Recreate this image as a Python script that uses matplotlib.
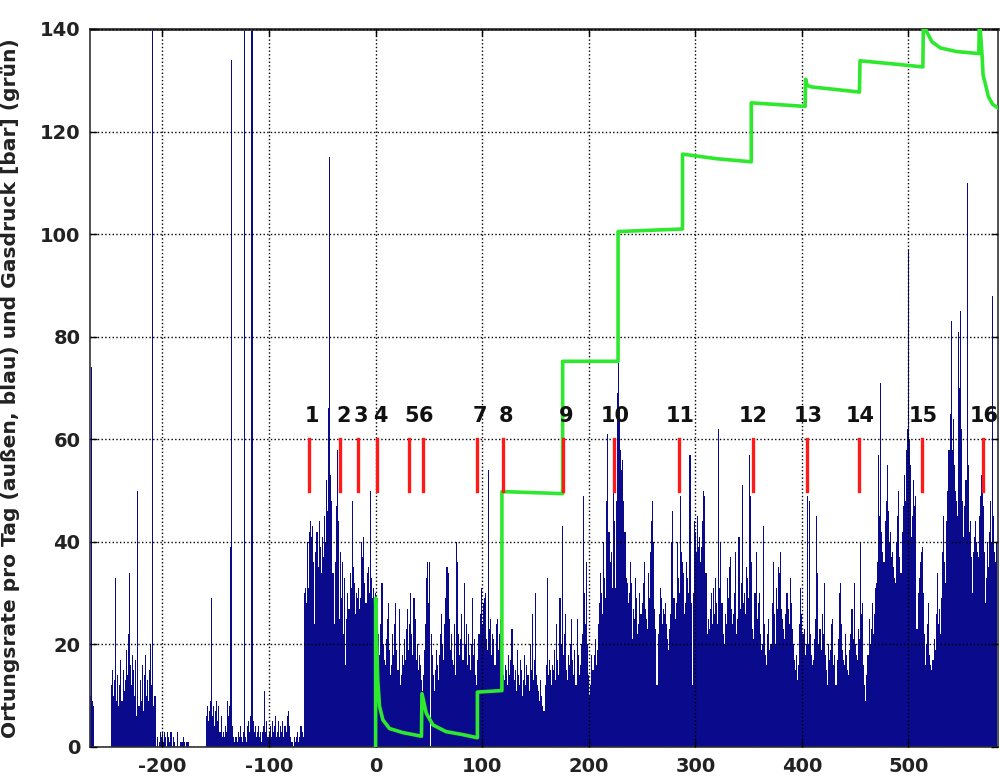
import numpy as np
import matplotlib
matplotlib.use('Agg')
import matplotlib.pyplot as plt

plt.rcParams['font.family'] = ['DejaVu Sans']
plt.rcParams['axes.unicode_minus'] = False

# daily rate (blue bars), split into day ranges: (first day, values)
rate_a_start = -268  # -268 .. -207
rate_a = [10, 74, 9, 8, 0, 0, 0, 0, 0, 0, 0, 0, 0, 0, 0, 0, 0, 0, 0, 0,
          12, 15, 10, 13, 33, 9, 14, 8, 12, 17, 9, 15, 11, 13, 19, 14, 22, 34, 16, 12,
          18, 15, 10, 17, 6, 50, 8, 13, 9, 16, 7, 14, 18, 10, 13, 9, 15, 20, 12, 160,
          8, 10]
rate_b_start = -206  # -206 .. -160
rate_b = [0, 2, 0, 1, 3,
          2, 3, 1, 3, 2, 0, 3, 2, 1, 3, 0, 2, 1, 0, 0, 3, 0, 0, 1, 1, 1, 2, 1, 0, 1, 1, 0,
          0, 0, 0, 0, 0, 0, 0, 0, 0, 0, 0, 0, 0, 0, 0]
rate_c_start = -159  # -159 .. -69
rate_c = [6, 8, 5, 7, 9, 29, 6, 8, 4, 7,
          9, 5, 8, 3, 6, 2, 3, 2, 4, 3,
          9, 6, 8, 39, 134, 4, 2, 1, 2, 1,
          3, 2, 4, 2, 1, 3, 160, 2, 1, 4,
          5, 3, 6, 160, 5, 3, 4, 2, 3, 4,
          2, 3, 1, 3, 4, 11, 3, 5, 2, 3,
          4, 2, 5, 3, 4, 6, 2, 3, 5, 2,
          4, 3, 5, 2, 4, 3, 6, 7, 4, 2,
          1, 1, 0, 2, 1, 2, 3, 1, 2, 4,
          3]
rate_d_start = -68  # -68 .. -1
rate_d = [2, 30, 31, 28, 40, 31, 42, 44, 41, 43,
          36, 24, 38, 42, 35, 44, 39, 34, 41, 37,
          45, 40, 52, 46, 66, 115, 53, 48, 34, 24,
          36, 47, 58, 44, 25, 38, 29, 36, 22, 33,
          16, 25, 30, 27, 34, 31, 48, 35, 32, 26,
          30, 29, 31, 27, 29, 40, 37, 41, 32, 28,
          34, 35, 30, 50, 33, 29, 31, 28]
rate_e_start = 0  # 0 .. 120
rate_e = [30, 26, 29, 22, 18, 24, 32, 20, 17, 16,
          21, 25, 28, 19, 14, 16, 22, 18, 24, 28,
          19, 15, 27, 12, 14, 18, 16, 21, 17, 23,
          27, 19, 24, 30, 22, 18, 29, 25, 17, 20,
          15, 18, 16, 13, 11, 14, 19, 24, 33, 36,
          28, 36, 22, 18, 14, 11, 15, 19, 16, 13,
          18, 22, 26, 20, 17, 24, 29, 35, 34, 25,
          19, 22, 17, 16, 24, 14, 40, 36, 22, 18,
          21, 26, 17, 32, 20, 24, 16, 22, 18, 15,
          20, 29, 18, 21, 14, 12, 17, 22, 26, 31,
          24, 28, 29, 30, 21, 19, 54, 23, 25, 18,
          22, 21, 16, 24, 25, 19, 22, 25, 20, 23,
          14]
rate_f_start = 121  # 121 .. 240
rate_f = [13, 16, 15, 12, 18, 14, 17, 23, 16, 13,
          15, 11, 19, 14, 12, 17, 15, 10, 13, 18,
          12, 16, 14, 11, 20, 15, 26, 13, 17, 30,
          14, 12, 11, 9, 13, 10, 8, 7, 12, 16,
          33, 14, 17, 15, 12, 16, 15, 19, 13, 24,
          17, 14, 29, 20, 43, 18, 22, 26, 15, 13,
          18, 16, 20, 25, 17, 14, 19, 12, 25, 18,
          14, 16, 20, 22, 49, 30, 24, 36, 20, 14,
          10, 12, 18, 15, 18, 21, 16, 19, 24, 28,
          34, 30, 26, 40, 33, 29, 48, 61, 42, 36,
          38, 31, 60, 44, 31, 48, 69, 87, 66, 58,
          54, 56, 48, 42, 33, 32, 28, 30, 36, 32]
rate_g_start = 241  # 241 .. 405
rate_g = [21, 27, 25, 33, 29, 22, 24, 30, 26, 28,
          32, 36, 27, 25, 23, 34, 29, 38, 44, 48,
          40, 27, 23, 12, 22, 26, 31, 29, 24, 27,
          26, 28, 24, 21, 19, 23, 26, 40, 46, 29,
          25, 28, 40, 33, 30, 49, 38, 36, 34, 26,
          28, 36, 33, 30, 57, 28, 12, 30, 44, 42,
          38, 45, 39, 41, 36, 39, 44, 50, 49, 34,
          22, 25, 23, 27, 30, 24, 31, 26, 33, 28,
          24, 62, 31, 40, 28, 22, 20, 26, 24, 33,
          29, 35, 37, 27, 24, 26, 30, 38, 22, 25,
          41, 27, 32, 51, 28, 30, 26, 35, 33, 29,
          57, 49, 36, 23, 21, 30, 38, 25, 28, 30,
          22, 19, 20, 43, 24, 18, 16, 22, 25, 19,
          20, 28, 36, 26, 20, 31, 27, 35, 34, 38,
          27, 25, 23, 21, 26, 30, 27, 24, 33, 28,
          23, 20, 17, 15, 18, 13, 16, 24, 31, 26,
          22, 23, 18, 20, 49]
rate_h_start = 406  # 406 .. 583
rate_h = [20, 48, 22, 18, 16, 17, 21, 25, 45, 34,
          20, 23, 19, 26, 22, 32, 18, 15, 12, 20,
          17, 19, 24, 25, 16, 18, 12, 17, 21, 30,
          32, 24, 19, 17, 16, 22, 18, 15, 14, 19,
          22, 27, 21, 32, 20, 18, 17, 23, 21, 40,
          26, 28, 16, 12, 9, 14, 18, 25, 20, 23,
          28, 22, 26, 31, 32, 36, 57, 45, 71, 42,
          38, 36, 44, 48, 55, 46, 40, 42, 37, 38,
          35, 33, 32, 40, 45, 50, 37, 34, 42, 47,
          53, 48, 58, 62, 97, 60, 55, 41, 45, 52,
          47, 49, 23, 30, 33, 36, 38, 39, 30, 22,
          16, 20, 24, 28, 18, 16, 15, 17, 21, 19,
          26, 34, 24, 27, 22, 29, 38, 45, 36, 32,
          44, 50, 58, 65, 83, 58, 64, 55, 50, 48,
          45, 81, 70, 85, 62, 48, 41, 47, 52, 110,
          55, 42, 44, 37, 30, 38, 41, 44, 40, 38,
          37, 45, 49, 53, 47, 38, 28, 33, 40, 35,
          42, 48, 40, 88, 45, 38, 36, 40]

# gas pressure (green line)
p_day = [0, 0, 2, 3.7, 6.8, 13, 25.6, 43, 43.5, 47.5, 53.8, 66, 82, 95.5, 95.5,
         118.5, 118.5, 175.5, 175.5, 227.5, 227.5, 288, 288, 320, 352.5, 352.5,
         403, 403.5, 405, 409, 454, 454.5, 485, 513.5, 514, 517, 522, 530, 545,
         566, 566.6, 568, 569, 570, 572, 575, 579, 584]
p_bar = [0, 29, 13, 7.9, 5.3, 3.6, 2.8, 2.1, 10.4, 6.6, 4.3, 3.0, 2.4, 1.8, 10.7,
         11.0, 49.8, 49.4, 75.2, 75.2, 100.5, 101.0, 115.6, 114.7, 114.1, 125.6,
         124.9, 130.2, 129.0, 128.7, 127.7, 133.8, 133.2, 132.6, 141.5, 139.5, 137.5,
         136.3, 135.6, 135.2, 142, 138, 135, 131, 129.4, 126.8, 125.3, 124.6]

# event markers (red) and their numbers
ev_day = [-62.6, -33, -16.6, 1, 31, 44.4, 95, 119.5, 176, 224, 284.5,
          353.7, 405, 453.7, 513, 569.6]
ev_label = [str(i) for i in range(1, 17)]

segments = [(rate_a_start, rate_a), (rate_b_start, rate_b), (rate_c_start, rate_c),
            (rate_d_start, rate_d), (rate_e_start, rate_e), (rate_f_start, rate_f),
            (rate_g_start, rate_g), (rate_h_start, rate_h)]
days = np.concatenate([np.arange(s, s + len(v)) for s, v in segments])
rate = np.concatenate([np.array(v, dtype=float) for s, v in segments])

fig = plt.figure(figsize=(10, 7.83), dpi=100)
ax = fig.add_axes([0.09, 0.046, 0.908, 0.917])

ax.bar(days, rate, width=1.0, color='#0a0a8c', linewidth=0, zorder=1)
ax.grid(True, linestyle=':', color='black', linewidth=1.0, zorder=1.5)
ax.set_axisbelow(False)

ax.plot(p_day, p_bar, color='#2ee82e', linewidth=2.6, zorder=3)

for d, lab in zip(ev_day, ev_label):
    ax.plot([d, d], [50, 60], color='#ff1a1a', linewidth=2.4, zorder=4)
    off = 3 if len(lab) == 1 else 1
    ax.text(d + off, 64.5, lab, ha='center', va='center', fontsize=15,
            fontweight='bold', color='#111111', zorder=5)

ax.set_xlim(-268, 584)
ax.set_ylim(0, 140)
ax.set_xticks(np.arange(-200, 501, 100))
ax.set_yticks(np.arange(0, 141, 20))
ax.tick_params(direction='in', top=True, right=True, length=5, width=1,
               labelsize=14, pad=7)
for lab in ax.get_xticklabels() + ax.get_yticklabels():
    lab.set_fontweight('bold')
    lab.set_color('#222222')
for sp in ax.spines.values():
    sp.set_color('#333333')
    sp.set_linewidth(1.2)
ax.spines['top'].set_linewidth(2)

ax.set_ylabel('Ortungsrate pro Tag (außen, blau) und Gasdruck [bar] (grün)',
              fontsize=14.6, fontweight='bold', color='#222222')
ax.yaxis.set_label_coords(-0.077, 0.5)

fig.savefig('out.png', dpi=100)
